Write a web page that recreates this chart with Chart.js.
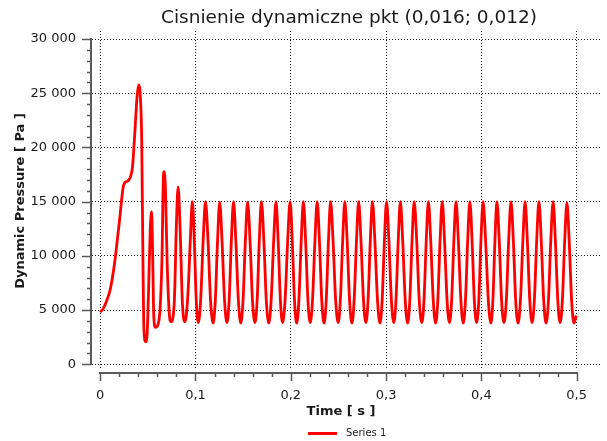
<!DOCTYPE html>
<html>
<head>
<meta charset="utf-8">
<script src="https://cdn.jsdelivr.net/npm/chart.js@4.4.1/dist/chart.umd.min.js"></script>
<style>
  html, body { margin: 0; padding: 0; background: #fff; }
  #wrap { position: relative; width: 607px; height: 441px; }
</style>
</head>
<body>
<div id="wrap"><canvas id="chart" width="607" height="441"></canvas></div>
<script>
const chartTitle = 'Cisnienie dynamiczne pkt (0,016; 0,012)';
const xTitle = 'Time [ s ]';
const yTitle = 'Dynamic Pressure [ Pa ]';
const seriesName = 'Series 1';

const xTicks = [0, 0.1, 0.2, 0.3, 0.4, 0.5];
const xTickLabels = ['0', '0,1', '0,2', '0,3', '0,4', '0,5'];
const yTicks = [0, 5000, 10000, 15000, 20000, 25000, 30000];
const yTickLabels = ['0', '5 000', '10 000', '15 000', '20 000', '25 000', '30 000'];

// time [s]
const timeS = [
    0, 0.0034, 0.0070, 0.0104, 0.0130, 0.0155, 0.0180, 0.0207, 0.0225, 0.0242,
    0.0258, 0.0276, 0.0311, 0.0339, 0.0363, 0.0387, 0.0404, 0.0425, 0.0436, 0.0449,
    0.0459, 0.0477, 0.0492, 0.0506, 0.0525, 0.0540, 0.0550, 0.0562, 0.0580, 0.0619,
    0.0647, 0.0666, 0.0684, 0.0702, 0.0725, 0.0743, 0.0777, 0.0801, 0.0818, 0.0839,
    0.0863, 0.0891, 0.0920, 0.0945,
    0.0967, 0.0988, 0.1008, 0.1029, 0.1054, 0.1080,
    0.1105, 0.1132, 0.1158, 0.1185, 0.1208, 0.1231,
    0.1254, 0.1279, 0.1305, 0.1330, 0.1353, 0.1376,
    0.1399, 0.1424, 0.1450, 0.1475, 0.1499, 0.1523,
    0.1547, 0.1573, 0.1598, 0.1624, 0.1647, 0.1669,
    0.1692, 0.1718, 0.1743, 0.1769, 0.1794, 0.1820,
    0.1845, 0.1868, 0.1891, 0.1914, 0.1940, 0.1967,
    0.1993, 0.2016, 0.2039, 0.2062, 0.2085, 0.2109,
    0.2132, 0.2156, 0.2180, 0.2204, 0.2228, 0.2253,
    0.2277, 0.2301, 0.2325, 0.2349, 0.2372, 0.2395,
    0.2418, 0.2444, 0.2471, 0.2497, 0.2520, 0.2544,
    0.2567, 0.2592, 0.2617, 0.2642, 0.2665, 0.2689,
    0.2712, 0.2737, 0.2763, 0.2788, 0.2811, 0.2834,
    0.2857, 0.2883, 0.2910, 0.2936, 0.2959, 0.2982,
    0.3005, 0.3030, 0.3056, 0.3081, 0.3104, 0.3127,
    0.3150, 0.3175, 0.3201, 0.3226, 0.3249, 0.3272,
    0.3295, 0.3322, 0.3348, 0.3375, 0.3398, 0.3421,
    0.3444, 0.3469, 0.3495, 0.3520, 0.3543, 0.3566,
    0.3589, 0.3614, 0.3640, 0.3665, 0.3688, 0.3711,
    0.3734, 0.3759, 0.3785, 0.3810, 0.3833, 0.3856,
    0.3879, 0.3903, 0.3926, 0.3950, 0.3973, 0.3995,
    0.4018, 0.4045, 0.4073, 0.4100, 0.4121, 0.4142,
    0.4163, 0.4188, 0.4212, 0.4237, 0.4262, 0.4286,
    0.4311, 0.4336, 0.4360, 0.4385, 0.4410, 0.4435,
    0.4459, 0.4483, 0.4508, 0.4532, 0.4556, 0.4580,
    0.4604, 0.4629, 0.4654, 0.4679, 0.4704, 0.4728,
    0.4753, 0.4777, 0.4802, 0.4826, 0.4850, 0.4874,
    0.4898, 0.4922, 0.4947, 0.4971, 0.4995
];

// dynamic pressure [Pa]
const pressurePa = [
    4800, 5160, 5900, 6850, 8100, 9600, 11500, 13600, 15200, 16370,
    16750, 16840, 17150, 18220, 21300, 24680, 25760, 24070, 20500, 9300,
    3160, 2080, 2700, 6300, 12380, 14070, 10500, 4500, 3400, 4200,
    9300, 17760, 16370, 9610, 4700, 3920, 5620, 13300, 16370, 12380,
    5600, 3920, 6400, 11300,
    15000, 11300, 5900, 3850, 5900, 11300,
    15000, 11300, 5900, 3800, 5900, 11300,
    14950, 11300, 5900, 3850, 5900, 11300,
    15000, 11300, 5900, 3800, 5900, 11300,
    14950, 11300, 5900, 3850, 5900, 11300,
    15000, 11300, 5900, 3800, 5900, 11300,
    15000, 11300, 5900, 3850, 5900, 11300,
    15000, 11300, 5900, 3800, 5900, 11300,
    15000, 11300, 5900, 3850, 5900, 11300,
    15000, 11300, 5900, 3800, 5900, 11300,
    15000, 11300, 5900, 3850, 5900, 11300,
    15000, 11300, 5900, 3800, 5900, 11300,
    15000, 11300, 5900, 3850, 5900, 11300,
    15000, 11300, 5900, 3800, 5900, 11300,
    15000, 11300, 5900, 3850, 5900, 11300,
    15000, 11300, 5900, 3800, 5900, 11300,
    15000, 11300, 5900, 3850, 5900, 11300,
    15000, 11300, 5900, 3800, 5900, 11300,
    15000, 11300, 5900, 3850, 5900, 11300,
    15000, 11300, 5900, 3800, 5900, 11300,
    15000, 11300, 5900, 3850, 5900, 11300,
    15000, 11300, 5900, 3800, 5900, 11300,
    15000, 11300, 5900, 3850, 5900, 11300,
    15000, 11300, 5900, 3800, 5900, 11300,
    15000, 11300, 5900, 3850, 5900, 11300,
    15000, 11300, 5900, 3800, 5900, 11300,
    15000, 11300, 5900, 3850, 5900, 11300,
    14900, 11300, 5900, 3800, 4500
];

const FONT = '"DejaVu Sans", Verdana, sans-serif';
const TEXT = '#1a1a1a';
const AXIS = '#5a5a5a';
const RED = '#ff0000';

// axis spines, minor ticks, titles and legend in the style of the original
const decorPlugin = {
    id: 'decor',
    afterDraw(chart) {
        const ctx = chart.ctx;
        const xs = chart.scales.x;
        const ys = chart.scales.y;
        const y0 = Math.round(ys.getPixelForValue(0));
        const y30 = Math.round(ys.getPixelForValue(30000));
        const x0 = Math.round(xs.getPixelForValue(0));
        const x5 = Math.round(xs.getPixelForValue(0.5));
        const spineX = 91;
        const spineY = 373;

        ctx.save();
        ctx.strokeStyle = AXIS;
        ctx.lineWidth = 2;
        ctx.beginPath();
        ctx.moveTo(spineX, y0 + 1);
        ctx.lineTo(spineX, y30 - 1);
        ctx.moveTo(x0 - 1, spineY);
        ctx.lineTo(x5 + 1, spineY);
        ctx.stroke();

        ctx.lineWidth = 1.5;
        ctx.beginPath();
        for (let v = 0; v <= 30000; v += 1000) {
            const py = Math.round(ys.getPixelForValue(v)) + 0.5;
            const len = v % 5000 === 0 ? 9 : 4;
            ctx.moveTo(spineX, py);
            ctx.lineTo(spineX - len, py);
        }
        for (let i = 0; i <= 25; i++) {
            const px = Math.round(xs.getPixelForValue(i * 0.02)) + 0.5;
            const len = i % 5 === 0 ? 8 : 4;
            ctx.moveTo(px, spineY);
            ctx.lineTo(px, spineY + len);
        }
        ctx.stroke();

        ctx.fillStyle = TEXT;
        ctx.textAlign = 'center';
        ctx.textBaseline = 'alphabetic';
        ctx.font = '18.5px ' + FONT;
        ctx.fillText(chartTitle, 349, 23);

        ctx.font = 'bold 13px ' + FONT;
        ctx.textBaseline = 'middle';
        ctx.fillText(xTitle, 341, 412);
        ctx.save();
        ctx.translate(21, 201);
        ctx.rotate(-Math.PI / 2);
        ctx.fillText(yTitle, 0, 0);
        ctx.restore();

        // legend
        ctx.strokeStyle = RED;
        ctx.lineWidth = 3;
        ctx.beginPath();
        ctx.moveTo(308, 433.5);
        ctx.lineTo(337, 433.5);
        ctx.stroke();
        ctx.font = '10px ' + FONT;
        ctx.textAlign = 'left';
        ctx.fillText(seriesName, 346, 433);
        ctx.restore();
    }
};

const points = timeS.map(function (t, i) {
    return { x: t, y: pressurePa[i] };
});

new Chart(document.getElementById('chart'), {
    type: 'line',
    data: {
        datasets: [{
            label: seriesName,
            data: points,
            borderColor: RED,
            backgroundColor: RED,
            borderWidth: 2.8,
            pointRadius: 0,
            fill: false,
            cubicInterpolationMode: 'monotone'
        }]
    },
    options: {
        responsive: false,
        animation: false,
        devicePixelRatio: 1,
        layout: { padding: { top: 31, right: 0, left: 0, bottom: 0 } },
        plugins: {
            legend: { display: false },
            title: { display: false },
            tooltip: { enabled: false }
        },
        scales: {
            x: {
                type: 'linear',
                bounds: 'data',
                min: -0.0086,
                max: 0.5256,
                afterBuildTicks: function (scale) {
                    scale.ticks = xTicks.map(function (v) { return { value: v }; });
                },
                afterFit: function (scale) { scale.height = 73; },
                grid: { color: '#222', lineWidth: 1, drawTicks: false },
                border: { display: false, dash: [1, 2] },
                ticks: {
                    padding: 20,
                    maxRotation: 0,
                    autoSkip: false,
                    color: TEXT,
                    font: { family: FONT, size: 13 },
                    callback: function (v, i) { return xTickLabels[i]; }
                }
            },
            y: {
                type: 'linear',
                bounds: 'data',
                min: -340,
                max: 30740,
                afterBuildTicks: function (scale) {
                    scale.ticks = yTicks.map(function (v) { return { value: v }; });
                },
                afterFit: function (scale) { scale.width = 92; },
                grid: { color: '#222', lineWidth: 1, drawTicks: false },
                border: { display: false, dash: [1, 2] },
                ticks: {
                    padding: 16,
                    autoSkip: false,
                    color: TEXT,
                    font: { family: FONT, size: 13 },
                    callback: function (v, i) { return yTickLabels[i]; }
                }
            }
        }
    },
    plugins: [decorPlugin]
});
</script>
</body>
</html>
